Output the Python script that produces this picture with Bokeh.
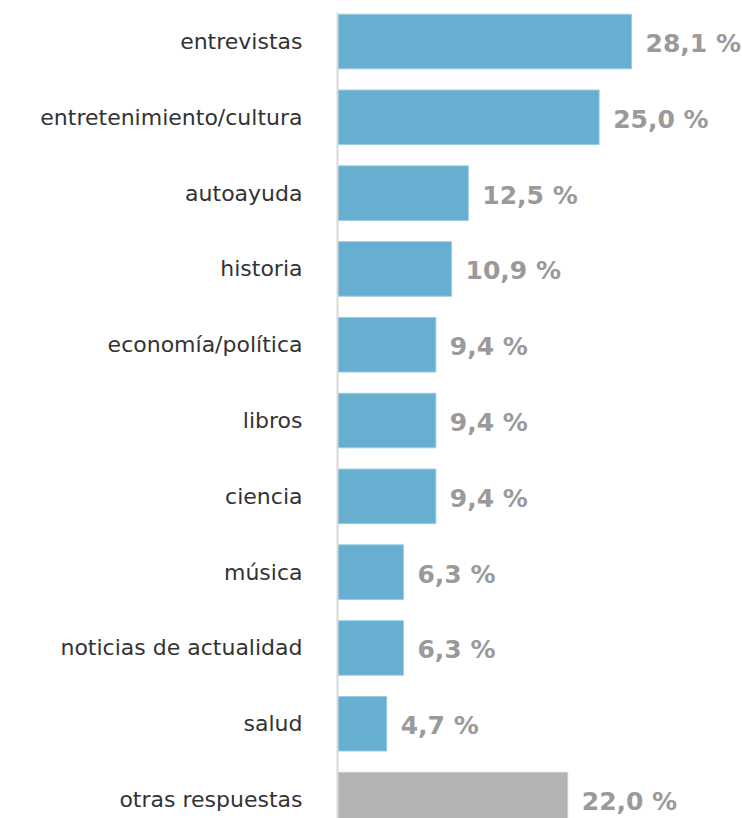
from bokeh.plotting import figure
from bokeh.models import ColumnDataSource, Range1d, FixedTicker
from bokeh.core.properties import value
from bokeh.embed import file_html
from bokeh.resources import INLINE

categories = ["entrevistas", "entretenimiento/cultura", "autoayuda", "historia",
              "economía/política", "libros", "ciencia", "música",
              "noticias de actualidad", "salud", "otras respuestas"]
values = [28.1, 25.0, 12.5, 10.9, 9.4, 9.4, 9.4, 6.3, 6.3, 4.7, 22.0]
labels = ["28,1 %", "25,0 %", "12,5 %", "10,9 %", "9,4 %", "9,4 %", "9,4 %",
          "6,3 %", "6,3 %", "4,7 %", "22,0 %"]
colors = ["#67afd0"] * 10 + ["#b3b3b3"]
outlines = ["#9ccbe2"] * 10 + ["#cfcfcf"]

pos = list(range(len(categories)))
src = ColumnDataSource(dict(y=pos, v=values, lab=labels, c=colors, o=outlines))

p = figure(width=742, height=818, output_backend="svg", toolbar_location=None,
           x_range=Range1d(0, 38.7), y_range=Range1d(10.25, -0.383),
           min_border_left=337, min_border_right=0, min_border_top=12,
           min_border_bottom=0)
p.hbar(y="y", left=0, right="v", height=0.72, fill_color="c", line_color="o",
       line_width=1, source=src)
p.text(x="v", y="y", text="lab", source=src, x_offset=14, y_offset=2,
       text_align="left", text_baseline="middle",
       text_font=value("DejaVu Sans"), text_font_style="bold",
       text_font_size="25px", text_color="#9a9a9a")

p.xaxis.visible = False
p.xgrid.visible = False
p.ygrid.visible = False
p.outline_line_color = None
p.yaxis.ticker = FixedTicker(ticks=pos)
p.yaxis.major_label_overrides = {i: c for i, c in zip(pos, categories)}
p.yaxis.major_tick_line_color = None
p.yaxis.minor_tick_line_color = None
p.yaxis.axis_line_color = "#d9d9d9"
p.yaxis.axis_line_width = 2
p.yaxis.major_label_standoff = 29
p.yaxis.major_label_text_font = "DejaVu Sans"
p.yaxis.major_label_text_font_size = "22px"
p.yaxis.major_label_text_color = "#333333"

open("out.html", "w").write(file_html(p, INLINE))
